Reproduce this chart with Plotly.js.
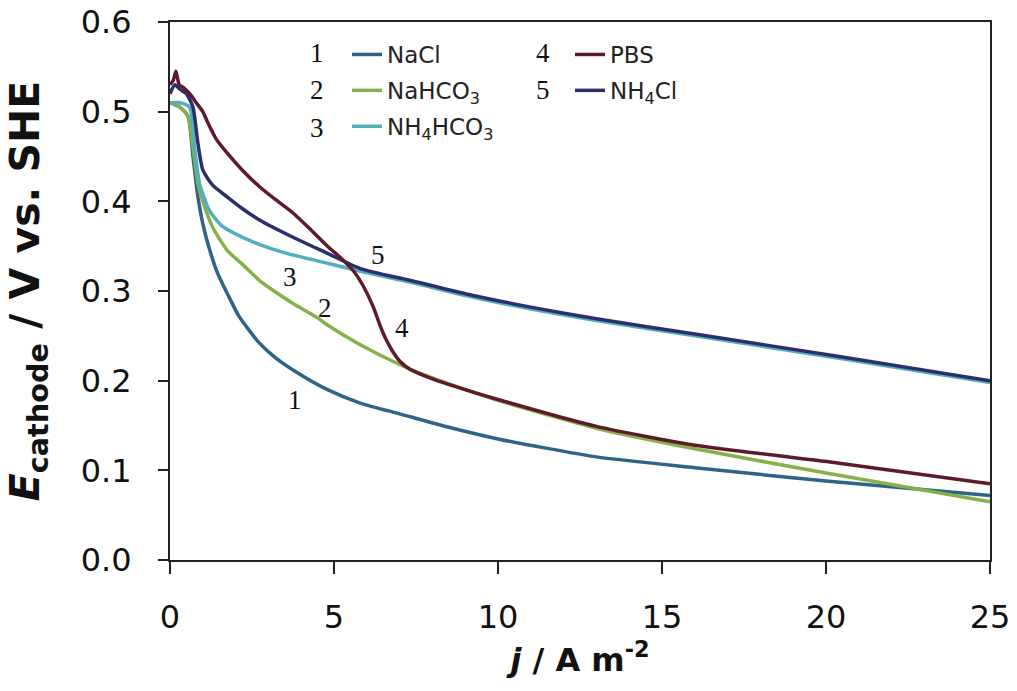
<!DOCTYPE html>
<html>
<head>
<meta charset="utf-8">
<script src="https://cdn.plot.ly/plotly-3.0.1.min.js"></script>
<style>html,body{margin:0;padding:0;background:#fff;}#chart{width:1017px;height:691px;}</style>
</head>
<body>
<div id="chart"></div>
<script>
// Series names
const seriesNames = ["NaCl", "NaHCO<sub>3</sub>", "NH<sub>4</sub>HCO<sub>3</sub>", "PBS", "NH<sub>4</sub>Cl"];
const seriesNumbers = ["1", "2", "3", "4", "5"];

// 1 NaCl
const x1 = [0, 0.3, 0.55, 0.7, 0.85, 1.0, 1.2, 1.45, 1.75, 2.1, 2.7, 3.2, 3.75, 4.8, 5.8, 7, 8.5, 10, 13, 16, 20, 25];
const y1 = [0.51, 0.505, 0.495, 0.45, 0.405, 0.375, 0.347, 0.32, 0.297, 0.272, 0.243, 0.226, 0.212, 0.19, 0.175, 0.163, 0.148, 0.135, 0.115, 0.103, 0.088, 0.072];
// 2 NaHCO3
const x2 = [0, 0.3, 0.55, 0.7, 0.85, 1.0, 1.3, 1.75, 2.2, 2.75, 3.25, 3.75, 4.5, 4.8, 5.8, 7.0, 8.0, 9.0, 10, 13, 16, 20, 25];
const y2 = [0.51, 0.505, 0.495, 0.46, 0.42, 0.40, 0.371, 0.345, 0.33, 0.311, 0.298, 0.286, 0.27, 0.262, 0.24, 0.218, 0.203, 0.19, 0.178, 0.147, 0.124, 0.097, 0.065];
// 3 NH4HCO3
const x3 = [0, 0.3, 0.6, 0.75, 0.9, 1.2, 1.6, 2.2, 2.8, 3.56, 4.8, 5.8, 7.3, 9, 11, 13, 16, 20.4, 25];
const y3 = [0.51, 0.51, 0.505, 0.46, 0.42, 0.39, 0.372, 0.36, 0.351, 0.342, 0.331, 0.322, 0.31, 0.295, 0.28, 0.267, 0.25, 0.225, 0.198];
// 4 PBS
const x4 = [0, 0.1, 0.18, 0.28, 0.4, 0.6, 0.8, 1.0, 1.15, 1.4, 1.74, 2.2, 2.74, 3.25, 3.75, 4.3, 4.8, 5.2, 5.6, 5.9, 6.2, 6.4, 6.6, 6.8, 7.0, 7.3, 8, 9, 10, 13, 16, 20.4, 25];
const y4 = [0.53, 0.535, 0.545, 0.53, 0.527, 0.52, 0.51, 0.5, 0.488, 0.47, 0.454, 0.435, 0.416, 0.401, 0.387, 0.368, 0.35, 0.337, 0.322, 0.305, 0.282, 0.262, 0.245, 0.232, 0.222, 0.213, 0.202, 0.19, 0.179, 0.149, 0.128, 0.108, 0.085];
// 5 NH4Cl
const x5 = [0, 0.15, 0.3, 0.5, 0.7, 0.85, 1.0, 1.3, 1.74, 2.2, 2.74, 3.75, 4.8, 5.8, 7.3, 9, 11, 13, 16, 20.4, 25];
const y5 = [0.52, 0.53, 0.525, 0.52, 0.505, 0.465, 0.435, 0.418, 0.405, 0.392, 0.379, 0.36, 0.342, 0.325, 0.312, 0.297, 0.282, 0.269, 0.252, 0.227, 0.2];

// Curve label positions (data coords)
const labelX = [3.81, 4.73, 3.66, 7.07, 6.34];
const labelY = [0.178, 0.281, 0.3155, 0.2586, 0.340];

const xTicks = [0, 5, 10, 15, 20, 25];
const yTicks = [0.0, 0.1, 0.2, 0.3, 0.4, 0.5, 0.6];
const yTickText = ["0.0", "0.1", "0.2", "0.3", "0.4", "0.5", "0.6"];

const colors = ["#2f6488", "#86b04a", "#55aebd", "#5e1a2a", "#2c2f6a"];
const xs = [x1, x2, x3, x4, x5];
const ys = [y1, y2, y3, y4, y5];
const legendOf = ["legend", "legend", "legend", "legend2", "legend2"];

const drawOrder = [0, 1, 2, 4, 3];
const traces = drawOrder.map(i => ({
  type: "scatter", mode: "lines",
  x: xs[i], y: ys[i], name: seriesNames[i],
  line: {color: colors[i], width: 3.5, shape: "spline", smoothing: 0.6},
  legend: legendOf[i], legendgroup: "g" + i, legendrank: i + 1
}));

const L = 170, W = 820, T = 22, H = 538;
const px2x = p => (p - L) / W;
const py2y = p => (560 - p) / H;

const annotations = [];
for (let i = 0; i < 5; i++) {
  annotations.push({x: labelX[i], y: labelY[i], xref: "x", yref: "y", text: seriesNumbers[i], showarrow: false,
    xanchor: "center", yanchor: "middle",
    font: {family: "Liberation Serif", size: 27, color: "#111"}});
}
const legNumX = [317, 317, 317, 543, 543];
const legNumY = [53, 90, 128, 53, 90];
for (let i = 0; i < 5; i++) {
  annotations.push({x: px2x(legNumX[i]), y: py2y(legNumY[i]), xref: "paper", yref: "paper", text: seriesNumbers[i], showarrow: false,
    xanchor: "center", yanchor: "middle",
    font: {family: "Liberation Serif", size: 27, color: "#111"}});
}

const legendFont = {family: "DejaVu Sans", size: 23, color: "#222"};
const layout = {
  width: 1017, height: 691,
  margin: {l: L, r: 1017 - L - W, t: T, b: 691 - T - H},
  paper_bgcolor: "#fff", plot_bgcolor: "#fff",
  showlegend: true,
  legend: {x: px2x(347), y: py2y(33), xanchor: "left", yanchor: "top", bgcolor: "rgba(0,0,0,0)",
    font: legendFont, traceorder: "grouped", tracegroupgap: 3, itemwidth: 30},
  legend2: {x: px2x(570), y: py2y(33), xanchor: "left", yanchor: "top", bgcolor: "rgba(0,0,0,0)",
    font: legendFont, traceorder: "grouped", tracegroupgap: 3, itemwidth: 30},
  xaxis: {
    range: [0, 25], tickvals: xTicks, ticktext: xTicks.map(String),
    ticks: "outside", ticklen: 12, tickwidth: 2, tickcolor: "#222",
    showline: true, linewidth: 2, linecolor: "#222", mirror: true, showgrid: false, zeroline: false,
    tickfont: {family: "DejaVu Sans", size: 32, color: "#111"}, ticklabelstandoff: 16,
    title: {text: "<b><i>j</i> / A m<sup>-2</sup></b>", font: {family: "DejaVu Sans", size: 32, color: "#111"}, standoff: 6}
  },
  yaxis: {
    range: [0, 0.6], tickvals: yTicks, ticktext: yTickText,
    ticks: "outside", ticklen: 10, tickwidth: 2, tickcolor: "#222",
    showline: true, linewidth: 2, linecolor: "#222", mirror: true, showgrid: false, zeroline: false,
    tickfont: {family: "DejaVu Sans", size: 32, color: "#111"}, ticklabelstandoff: 20,
    title: {text: "<b><i>E</i><sub>cathode</sub> / V vs. SHE</b>", font: {family: "DejaVu Sans", size: 41, color: "#111"}, standoff: 28}
  },
  annotations: annotations
};

Plotly.newPlot("chart", traces, layout, {displayModeBar: false, responsive: false});
</script>
</body>
</html>
